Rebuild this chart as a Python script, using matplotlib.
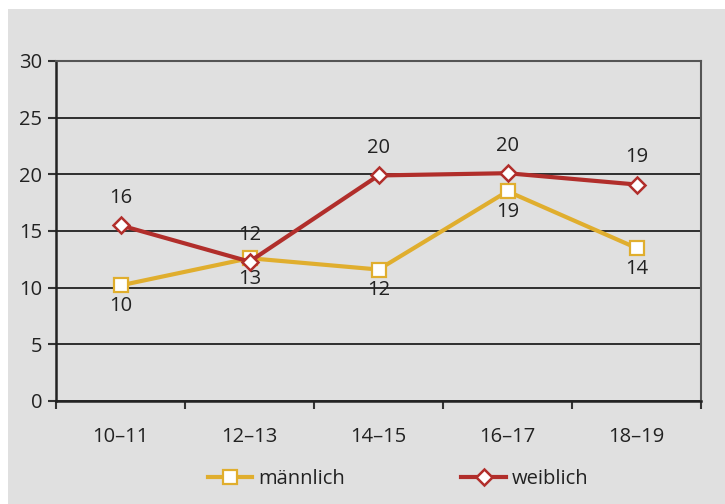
import matplotlib
matplotlib.use("Agg")
import matplotlib.pyplot as plt

# Altersgruppen und Werte
groups = ["10–11", "12–13", "14–15", "16–17", "18–19"]
maennlich = [10.2, 12.6, 11.6, 18.5, 13.5]
weiblich = [15.5, 12.3, 19.9, 20.1, 19.1]
maennlich_labels = ["10", "13", "12", "19", "14"]
weiblich_labels = ["16", "12", "20", "20", "19"]

plt.rcParams['font.family'] = ['Open Sans', 'DejaVu Sans']
bg = '#e0e0e0'
txt = '#222222'
c_m = '#e0ae2e'
c_w = '#b12e2b'
fs = 14.5

fig = plt.figure(figsize=(7.25, 5.04), dpi=100)
fig.patch.set_facecolor('white')
# grauer Hintergrund ohne den weissen Rand oben/links
fig.patches.append(plt.Rectangle((8 / 725, 0), 1, 1 - 9 / 504, transform=fig.transFigure,
                                 facecolor=bg, edgecolor='none', zorder=-10))

ax = fig.add_axes([56 / 725, 1 - 401 / 504, 645 / 725, 340 / 504])
ax.set_facecolor(bg)

x = list(range(len(groups)))
ax.plot(x, maennlich, color=c_m, lw=3, marker='s', ms=10, mfc='white', mec=c_m, mew=1.6,
        label='männlich', zorder=3)
ax.plot(x, weiblich, color=c_w, lw=3, marker='D', ms=8, mfc='white', mec=c_w, mew=1.8,
        label='weiblich', zorder=4)

for i in x:
    ax.annotate(maennlich_labels[i], (i, maennlich[i]), xytext=(0, -15), textcoords='offset points',
                ha='center', va='center', fontsize=fs, color=txt)
    ax.annotate(weiblich_labels[i], (i, weiblich[i]), xytext=(0, 19.5), textcoords='offset points',
                ha='center', va='center', fontsize=fs, color=txt)

ax.set_xlim(-0.5, len(groups) - 0.5)
ax.set_ylim(0, 30)
ax.set_yticks(range(0, 31, 5))
ax.yaxis.grid(True, color='#111111', lw=1.2)
ax.set_axisbelow(True)

ax.set_xticks(x)
ax.set_xticklabels(groups)
ax.set_xticks([i - 0.5 for i in range(len(groups) + 1)], minor=True)
ax.tick_params(axis='x', which='major', length=0, pad=19, labelsize=fs, labelcolor=txt)
ax.tick_params(axis='x', which='minor', length=6, width=1.5, color='#333333')
ax.tick_params(axis='y', length=6, width=1.5, color='#333333', pad=4, labelsize=fs, labelcolor=txt)

for side in ['left', 'bottom']:
    ax.spines[side].set_color('#222222')
    ax.spines[side].set_linewidth(1.8)
for side in ['top', 'right']:
    ax.spines[side].set_color('#555555')
    ax.spines[side].set_linewidth(1.5)

fig.legend(loc='center', bbox_to_anchor=(398 / 725, 1 - 479 / 504), ncol=2, frameon=False,
           fontsize=fs, handlelength=2.2, columnspacing=5.8, handletextpad=0.3,
           labelcolor=txt)

plt.savefig('out.png', dpi=100, facecolor=fig.get_facecolor())
